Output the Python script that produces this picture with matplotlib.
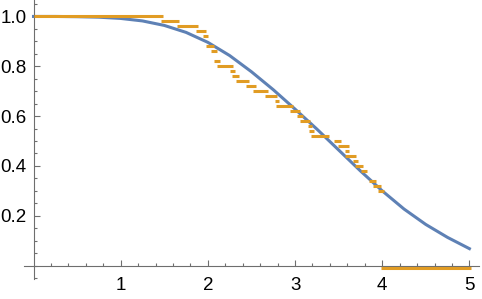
import numpy as np
import matplotlib.pyplot as plt

# smooth survival curve (blue)
curve_x = [0.0, 0.25, 0.5, 0.75, 1.0, 1.25, 1.5, 1.75, 2.0, 2.25, 2.5,
           2.75, 3.0, 3.25, 3.5, 3.75, 4.0, 4.25, 4.5, 4.75, 5.0]
curve_y = [1.000, 1.000, 0.999, 0.997, 0.992, 0.982, 0.964, 0.936, 0.896,
           0.843, 0.778, 0.706, 0.628, 0.548, 0.464, 0.380, 0.300, 0.227,
           0.165, 0.113, 0.068]

# empirical step function (orange): start, end and level of each step
seg_start = [0.0, 1.459, 1.650, 1.865, 1.945, 1.974, 2.037, 2.075, 2.109,
             2.255, 2.278, 2.327, 2.435, 2.515, 2.660, 2.765, 2.783, 2.943,
             3.027, 3.058, 3.150, 3.161, 3.181, 3.452, 3.491, 3.578, 3.578,
             3.660, 3.691, 3.754, 3.853, 3.890, 3.950, 3.987]
seg_end = [1.486, 1.673, 1.891, 1.976, 2.002, 2.068, 2.106, 2.143, 2.286,
           2.309, 2.358, 2.469, 2.550, 2.691, 2.794, 2.817, 2.981, 3.058,
           3.096, 3.173, 3.196, 3.213, 3.394, 3.528, 3.614, 3.617, 3.697,
           3.727, 3.784, 3.823, 3.927, 3.987, 4.022, 5.02]
seg_level = [1.00, 0.98, 0.96, 0.94, 0.92, 0.88, 0.86, 0.82, 0.80, 0.78,
             0.76, 0.74, 0.72, 0.70, 0.68, 0.66, 0.64, 0.62, 0.60, 0.58,
             0.56, 0.54, 0.52, 0.50, 0.48, 0.46, 0.44, 0.42, 0.40, 0.38,
             0.34, 0.32, 0.30, -0.009]

x_ticks = [1, 2, 3, 4, 5]
y_ticks = [0.2, 0.4, 0.6, 0.8, 1.0]

plt.rcParams['font.family'] = ['Liberation Sans', 'DejaVu Sans']

fig = plt.figure(figsize=(4.82, 2.99), dpi=100)
ax = fig.add_axes([24 / 482, (299 - 279.3) / 299, 455 / 482, 279.3 / 299])

ax.plot(curve_x, curve_y, color='#5e81b5', lw=2.2, zorder=2)
ax.hlines(seg_level, seg_start, seg_end, color='#e19c24', lw=2.2,
          capstyle='butt', zorder=3)

ax.set_xlim(-0.109, 5.11)
ax.set_ylim(-0.055, 1.066)

for s in ['top', 'right']:
    ax.spines[s].set_visible(False)
ax.spines['left'].set_position(('data', 0))
ax.spines['bottom'].set_position(('data', 0))
for s in ['left', 'bottom']:
    ax.spines[s].set_color('#6e6e6e')
    ax.spines[s].set_linewidth(0.8)

ax.set_xticks(x_ticks)
ax.set_xticklabels([str(t) for t in x_ticks])
ax.set_yticks(y_ticks)
ax.set_yticklabels([f"{t:.1f}" for t in y_ticks])
ax.set_xticks(np.arange(0.2, 5.1, 0.2), minor=True)
ax.set_yticks(np.arange(-0.05, 1.06, 0.05), minor=True)

ax.tick_params(which='both', direction='in', color='#6e6e6e', width=0.8)
ax.tick_params(which='major', length=4)
ax.tick_params(which='minor', length=2.5)
ax.tick_params(axis='x', labelsize=13.5, pad=8.5)
ax.tick_params(axis='y', labelsize=13.5, pad=4.8)

fig.savefig("out.png", dpi=100)
